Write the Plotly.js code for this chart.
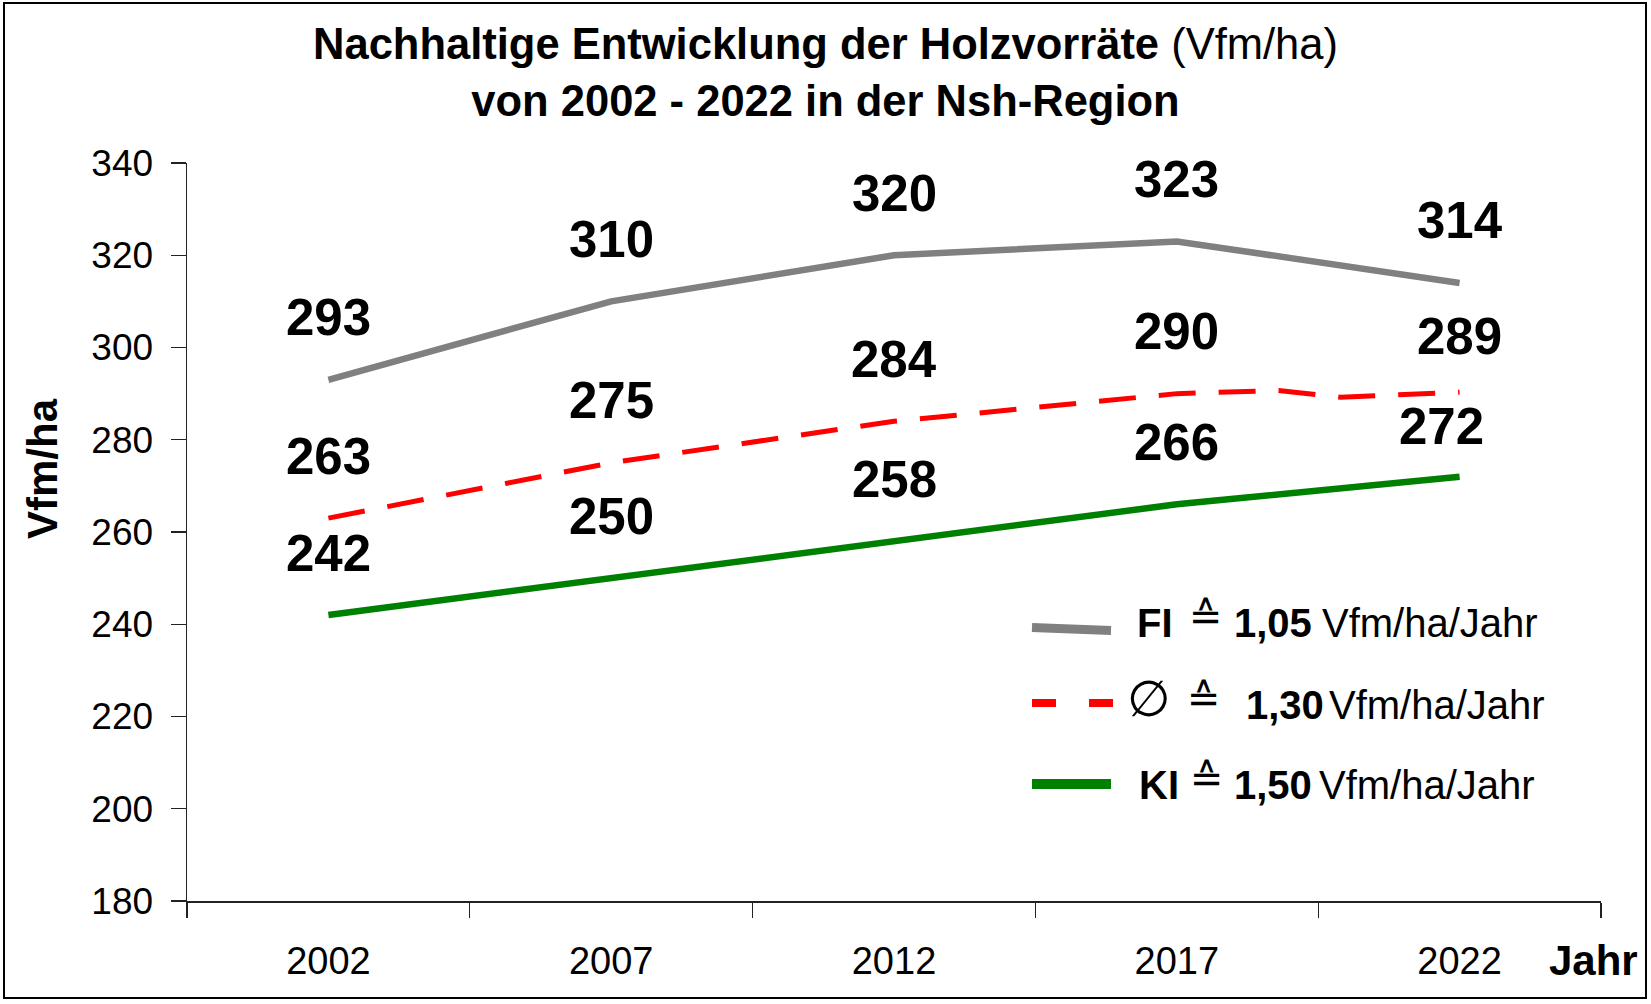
<!DOCTYPE html>
<html>
<head>
<meta charset="utf-8">
<script src="https://cdn.plot.ly/plotly-3.0.1.min.js"></script>
<style>
  html, body { margin: 0; padding: 0; background: #ffffff; }
  #chart { width: 1651px; height: 1004px; }
</style>
</head>
<body>
<div id="chart"></div>
<script>
// ---- Data ----
const years = [2002, 2007, 2012, 2017, 2022];
const yearLabels = ['2002', '2007', '2012', '2017', '2022'];

// Fichte (grey)
const fiValues = [293, 310, 320, 323, 314];
// Durchschnitt (red dashed) - as drawn, including the small wiggle before 2022
const avgLineYears  = [2002, 2007, 2012, 2017, 2018.8, 2019.9, 2022];
const avgLineValues = [263, 275, 284, 290, 290.7, 289.2, 290.3];
const avgLabels = [263, 275, 284, 290, 289];
// Kiefer (green)
const kiValues = [242, 250, 258, 266, 272];

const yTicks = [180, 200, 220, 240, 260, 280, 300, 320, 340];

const legendNames = ['FI', '\u2205', 'KI'];
const legendRates = ['1,05', '1,30', '1,50'];
const legendUnit = 'Vfm/ha/Jahr';

// ---- Layout helpers (pixel -> paper) ----
const W = 1651, H = 1004;
const M = { l: 187, r: 50, t: 163, b: 103 };
const PW = W - M.l - M.r, PH = H - M.t - M.b;
const px = v => (v - M.l) / PW;
const py = v => (H - M.b - v) / PH;

const FONT = 'Liberation Sans, Arial, Helvetica, sans-serif';
const SYM = 'DejaVu Sans, Liberation Sans, sans-serif';

const traces = [
  { x: years, y: fiValues, type: 'scatter', mode: 'lines',
    line: { color: '#808080', width: 6.5 }, name: 'FI', hoverinfo: 'skip' },
  { x: avgLineYears, y: avgLineValues, type: 'scatter', mode: 'lines',
    line: { color: '#ff0000', width: 5, dash: '37px,23px' }, name: 'Ø', hoverinfo: 'skip' },
  { x: years, y: kiValues, type: 'scatter', mode: 'lines',
    line: { color: '#008000', width: 6.5 }, name: 'KI', hoverinfo: 'skip' }
];

const annotations = [];
function dataLabels(vals, xs, xshifts, yshifts) {
  vals.forEach((v, i) => {
    annotations.push({
      x: xs[i], y: v, xref: 'x', yref: 'y', text: '<b>' + v + '</b>',
      showarrow: false, xanchor: 'center', yanchor: 'middle',
      xshift: xshifts ? xshifts[i] : 0, yshift: yshifts ? yshifts[i] : 62,
      font: { family: FONT, size: 51, color: '#000' }
    });
  });
}
dataLabels(fiValues, years);
dataLabels(avgLabels, years);
dataLabels(kiValues, years, [0, 0, 0, 0, -18], [62, 62, 62, 62, 50]);

// Y axis title
annotations.push({
  xref: 'paper', yref: 'paper', x: px(42), y: py(469), text: '<b>Vfm/ha</b>',
  textangle: -90, showarrow: false, xanchor: 'center', yanchor: 'middle',
  font: { family: FONT, size: 42, color: '#000' }
});
// X axis title "Jahr"
annotations.push({
  xref: 'paper', yref: 'paper', x: px(1593), y: py(960), text: '<b>Jahr</b>',
  showarrow: false, xanchor: 'center', yanchor: 'middle',
  font: { family: FONT, size: 42, color: '#000' }
});

// Custom legend
const legRows = [
  { y: 623, nameX: 1135, symX: 1187, rateX: 1232, unitX: 1320, nameSize: 40, nameBold: true },
  { y: 705, nameX: 1125, symX: 1185, rateX: 1244, unitX: 1327, nameSize: 50, nameBold: false },
  { y: 785, nameX: 1137, symX: 1188, rateX: 1232, unitX: 1317, nameSize: 40, nameBold: true }
];
legRows.forEach((r, i) => {
  annotations.push({ xref: 'paper', yref: 'paper', x: px(r.nameX), y: py(r.y - (i === 1 ? 6 : 0)),
    text: r.nameBold ? '<b>' + legendNames[i] + '</b>' : legendNames[i],
    showarrow: false, xanchor: 'left', yanchor: 'middle',
    font: { family: r.nameBold ? FONT : SYM, size: r.nameSize, color: '#000' } });
  annotations.push({ xref: 'paper', yref: 'paper', x: px(r.symX), y: py(r.y - 7),
    text: '\u2259', showarrow: false, xanchor: 'left', yanchor: 'middle',
    font: { family: SYM, size: 40, color: '#000' } });
  annotations.push({ xref: 'paper', yref: 'paper', x: px(r.rateX), y: py(r.y),
    text: '<b>' + legendRates[i] + '</b>', showarrow: false, xanchor: 'left', yanchor: 'middle',
    font: { family: FONT, size: 40, color: '#000' } });
  annotations.push({ xref: 'paper', yref: 'paper', x: px(r.unitX), y: py(r.y),
    text: legendUnit, showarrow: false, xanchor: 'left', yanchor: 'middle',
    font: { family: FONT, size: 40, color: '#000' } });
});

const shapes = [
  // outer frame
  { type: 'rect', xref: 'paper', yref: 'paper', x0: px(4), x1: px(1646), y0: py(998), y1: py(3),
    line: { color: '#000', width: 2 }, fillcolor: 'rgba(0,0,0,0)' },
  // legend symbols
  { type: 'line', xref: 'paper', yref: 'paper', x0: px(1032), x1: px(1111), y0: py(627.5), y1: py(630.5),
    line: { color: '#808080', width: 9 } },
  { type: 'line', xref: 'paper', yref: 'paper', x0: px(1032), x1: px(1056), y0: py(703), y1: py(703),
    line: { color: '#ff0000', width: 8 } },
  { type: 'line', xref: 'paper', yref: 'paper', x0: px(1089), x1: px(1113), y0: py(703), y1: py(703),
    line: { color: '#ff0000', width: 8 } },
  { type: 'line', xref: 'paper', yref: 'paper', x0: px(1032), x1: px(1111), y0: py(784), y1: py(784),
    line: { color: '#008000', width: 10 } }
];

const boundaries = years.map(y => y - 2.5).concat([years[years.length - 1] + 2.5]);

const layout = {
  width: W, height: H,
  margin: M,
  paper_bgcolor: '#ffffff', plot_bgcolor: '#ffffff',
  showlegend: false,
  font: { family: FONT, color: '#000' },
  title: {
    text: '<b>Nachhaltige Entwicklung der Holzvorräte</b> (Vfm/ha)<br><b>von 2002 - 2022 in der Nsh-Region</b>',
    font: { family: FONT, size: 43.5, color: '#000' },
    x: 0.5, xref: 'container', xanchor: 'center',
    y: 1 - 59 / H, yref: 'container', yanchor: 'middle'
  },
  xaxis: {
    type: 'linear', range: [boundaries[0], boundaries[boundaries.length - 1]],
    tickmode: 'array', tickvals: years, ticktext: yearLabels,
    ticks: '', showgrid: false, zeroline: false,
    showline: true, linecolor: '#222', linewidth: 1.5,
    tickfont: { family: FONT, size: 38, color: '#000' },
    ticklabelstandoff: 26,
    minor: { tickmode: 'array', tickvals: boundaries, ticks: 'outside', ticklen: 15,
             tickcolor: '#222', tickwidth: 1.2, showgrid: false }
  },
  yaxis: {
    range: [180, 340], tickmode: 'array', tickvals: yTicks,
    ticks: 'outside', ticklen: 15, tickcolor: '#222', tickwidth: 1.2,
    showgrid: false, zeroline: false,
    showline: true, linecolor: '#222', linewidth: 1.5,
    tickfont: { family: FONT, size: 37, color: '#000' },
    ticklabelstandoff: 10
  },
  annotations: annotations,
  shapes: shapes
};

Plotly.newPlot('chart', traces, layout, { staticPlot: true, displayModeBar: false });
</script>
</body>
</html>
